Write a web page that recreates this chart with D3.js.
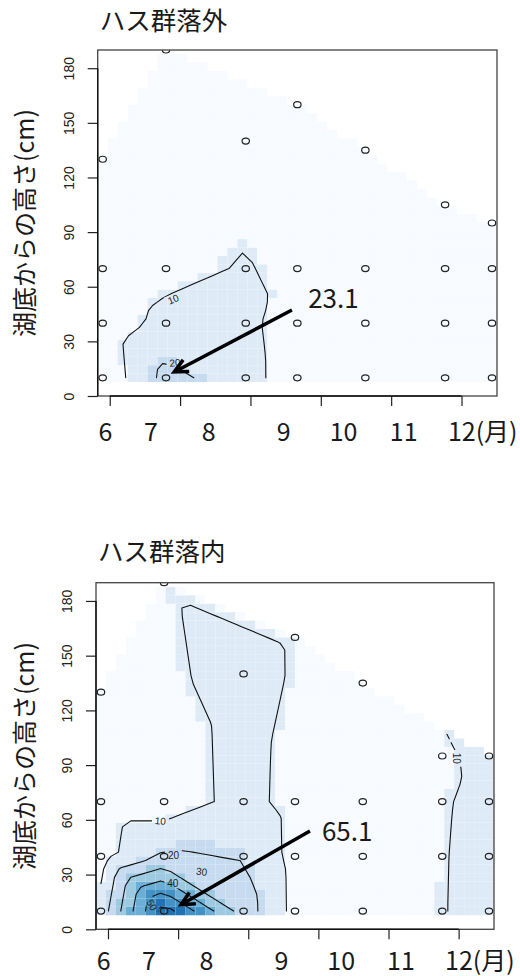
<!DOCTYPE html>
<html>
<head>
<meta charset="utf-8">
<script src="https://cdnjs.cloudflare.com/ajax/libs/d3/7.8.5/d3.min.js"></script>
<style>
  body { margin: 0; background: #fff; }
  .jp { font-family: "Noto Sans CJK JP", "Noto Sans", sans-serif; fill: #1a1a1a; }
  .tick text { font-family: "Liberation Sans", Arial, sans-serif; font-size: 14px; fill: #222; }
  .clabel { font-family: "Liberation Sans", Arial, sans-serif; font-size: 10px; fill: #222; }
</style>
</head>
<body>
<svg id="chart" width="520" height="976"></svg>
<script>
// sampling dates (day of year) - same 7 dates in both sites
const sampleDays = [157, 184, 218, 240, 269, 303, 323];

// sampled heights above the lake bottom (cm), one list per date
const depthsOutside = [[10, 40, 70, 130], [10, 40, 70, 190], [10, 40, 70, 140], [10, 40, 70, 160],
                       [10, 40, 70, 135], [10, 40, 70, 105], [10, 40, 70, 95]];
const depthsInside  = [[10, 40, 70, 130], [10, 40, 70, 190], [10, 40, 70, 140], [10, 40, 70, 160],
                       [10, 40, 70, 135], [10, 40, 70, 95], [10, 40, 70, 95]];

// measured values at each sample (estimated from the figure)
const valuesOutside = [[2.5, 4, 2, 1], [23.1, 13, 7, 1.5], [14.2, 13, 10.8, 5.5], [3.4, 3.3, 6.5, 2],
                       [2.5, 2.5, 2, 1.5], [2, 2, 1.5, 1], [2, 2, 2, 1.5]];
const valuesInside  = [[14, 6, 4, 3], [65.1, 21, 4, 9], [25, 19.5, 13.5, 14], [7, 6.75, 6.5, 9],
                       [3, 3, 3, 2.5], [9.6, 9.5, 9.2, 8], [13, 13, 12.5, 14]];

const contourLevels = [10, 20, 30, 40, 50, 60];
const colorBreaks = [9.3, 18.6, 27.9, 37.2, 46.5, 55.8];
const colorSteps = ["#f7fbff", "#deebf7", "#c6dbef", "#9ecae1", "#6baed6", "#4292c6", "#2171b5"];

const xTicks = [160, 190, 220, 250, 280, 310];
const yTicks = [0, 30, 60, 90, 120, 150, 180];
const monthLabels = ["6", "7", "8", "9", "10", "11", "12(月)"];
const monthDays = [155.2, 174.6, 199.2, 231.2, 253.8, 279.4, 304.2];

// contour labels: [level, day, height, angle]
const labelsOutside = [[10, 187.1, 53.1, -22], [20, 187.8, 18.3, -5]];
const labelsInside = [[10, 182.4, 59.4, 5], [20, 188.0, 40.7, 0], [30, 200.1, 31.6, 6],
                      [40, 187.7, 25.2, 0], [50, 178.7, 13.3, 60], [10, 309.1, 93.7, 90]];

const panels = [
  {title: "ハス群落外", depths: depthsOutside, values: valuesOutside, labels: labelsOutside, peak: "23.1",
   box: {left: 97.7, right: 497, top: 50, bottom: 396}, titleY: 30, monthY: 441,
   arrow: [[237.7, 47.2], [187.5, 13.2]], peakAt: [244.6, 54.4]},
  {title: "ハス群落内", depths: depthsInside, values: valuesInside, labels: labelsInside, peak: "65.1",
   box: {left: 96, right: 494, top: 582.7, bottom: 929.3}, titleY: 561, monthY: 970,
   arrow: [[246.4, 53.9], [191.2, 13.4]], peakAt: [251.5, 54.5]}
];

const svg = d3.select("#chart");
const color = d3.scaleThreshold().domain(colorBreaks).range(colorSteps);

// linear interpolation on the Delaunay triangulation, 40 x 40 grid
function interpField(days, depths, values) {
  const pts = [];
  days.forEach((d, i) => depths[i].forEach((h, j) => pts.push([d, h, values[i][j]])));
  const delaunay = d3.Delaunay.from(pts, p => p[0], p => p[1]);
  const tris = [];
  for (let t = 0; t < delaunay.triangles.length; t += 3) {
    const tri = [pts[delaunay.triangles[t]], pts[delaunay.triangles[t + 1]], pts[delaunay.triangles[t + 2]]];
    // drop the flat slivers along the upper hull
    const [a, b, c] = tri;
    const area = Math.abs((b[0] - a[0]) * (c[1] - a[1]) - (c[0] - a[0]) * (b[1] - a[1])) / 2;
    const longest = d3.max([[a, b], [b, c], [c, a]], ([u, v]) => (u[0] - v[0]) ** 2 + (u[1] - v[1]) ** 2);
    if (area / longest > 0.03) tris.push(tri);
  }
  const n = 40;
  const [x0, x1] = d3.extent(pts, p => p[0]);
  const [y0, y1] = d3.extent(pts, p => p[1]);
  const gx = d3.range(n).map(i => x0 + (x1 - x0) * i / (n - 1));
  const gy = d3.range(n).map(j => y0 + (y1 - y0) * j / (n - 1));
  const grid = gy.map(py => gx.map(px => {
    for (const [a, b, c] of tris) {
      const det = (b[1] - c[1]) * (a[0] - c[0]) + (c[0] - b[0]) * (a[1] - c[1]);
      const l1 = ((b[1] - c[1]) * (px - c[0]) + (c[0] - b[0]) * (py - c[1])) / det;
      const l2 = ((c[1] - a[1]) * (px - c[0]) + (a[0] - c[0]) * (py - c[1])) / det;
      const l3 = 1 - l1 - l2;
      if (l1 >= -1e-7 && l2 >= -1e-7 && l3 >= -1e-7) return l1 * a[2] + l2 * b[2] + l3 * c[2];
    }
    return null;
  }));
  return {gx, gy, grid, dx: (x1 - x0) / (n - 1), dy: (y1 - y0) / (n - 1), pts};
}

// marching squares, open lines stop at missing cells like R's contour()
function contourSegments(f, level) {
  const segs = [];
  for (let j = 0; j < f.gy.length - 1; j++) {
    for (let i = 0; i < f.gx.length - 1; i++) {
      const v00 = f.grid[j][i], v10 = f.grid[j][i + 1], v11 = f.grid[j + 1][i + 1], v01 = f.grid[j + 1][i];
      if (v00 == null || v10 == null || v11 == null || v01 == null) continue;
      const c = [[f.gx[i], f.gy[j], v00], [f.gx[i + 1], f.gy[j], v10],
                 [f.gx[i + 1], f.gy[j + 1], v11], [f.gx[i], f.gy[j + 1], v01]];
      const cross = [];
      for (let e = 0; e < 4; e++) {
        const a = c[e], b = c[(e + 1) % 4];
        if ((a[2] >= level) !== (b[2] >= level)) {
          const t = (level - a[2]) / (b[2] - a[2]);
          cross.push([a[0] + t * (b[0] - a[0]), a[1] + t * (b[1] - a[1])]);
        }
      }
      if (cross.length === 2) segs.push([cross[0], cross[1]]);
      else if (cross.length === 4) {
        const mid = (v00 + v10 + v11 + v01) / 4;
        if ((v00 >= level) === (mid >= level)) { segs.push([cross[0], cross[1]], [cross[2], cross[3]]); }
        else { segs.push([cross[3], cross[0]], [cross[1], cross[2]]); }
      }
    }
  }
  return segs;
}

panels.forEach((p, k) => {
  const f = interpField(sampleDays, p.depths, p.values);
  const x = d3.scaleLinear().domain([f.gx[0] - f.dx / 2, f.gx[f.gx.length - 1] + f.dx / 2])
      .range([p.box.left, p.box.right]);
  const y = d3.scaleLinear().domain([0, 190]).range([p.box.bottom, p.box.top]);

  const defs = svg.append("defs");
  defs.append("clipPath").attr("id", "clip" + k).append("rect")
      .attr("x", p.box.left).attr("y", p.box.top)
      .attr("width", p.box.right - p.box.left).attr("height", p.box.bottom - p.box.top);

  // gaps in contour lines under their labels
  const mask = defs.append("mask").attr("id", "mask" + k).attr("maskUnits", "userSpaceOnUse");
  mask.append("rect").attr("x", 0).attr("y", 0).attr("width", 520).attr("height", 976).attr("fill", "#fff");
  mask.selectAll("rect.gap").data(p.labels).join("rect").attr("class", "gap")
      .attr("x", d => -String(d[0]).length * 3.2 - 2).attr("y", -5)
      .attr("width", d => String(d[0]).length * 6.4 + 4).attr("height", 10)
      .attr("fill", "#000")
      .attr("transform", d => `translate(${x(d[1])},${y(d[2])}) rotate(${d[3]})`);

  const plot = svg.append("g").attr("clip-path", `url(#clip${k})`);

  const cells = [];
  f.gy.forEach((hy, j) => f.gx.forEach((dx, i) => {
    if (f.grid[j][i] != null) cells.push({x: dx, y: hy, v: f.grid[j][i]});
  }));
  plot.append("g").selectAll("rect").data(cells).join("rect")
      .attr("x", d => x(d.x - f.dx / 2))
      .attr("y", d => y(d.y + f.dy / 2))
      .attr("width", x(f.dx) - x(0))
      .attr("height", y(0) - y(f.dy))
      .attr("fill", d => color(d.v));

  const lines = plot.append("g").attr("mask", `url(#mask${k})`);
  contourLevels.forEach(level => {
    const segs = contourSegments(f, level);
    if (!segs.length) return;
    lines.append("path")
        .attr("d", segs.map(s => `M${x(s[0][0])},${y(s[0][1])}L${x(s[1][0])},${y(s[1][1])}`).join(""))
        .attr("fill", "none").attr("stroke", "#111").attr("stroke-width", 1.1)
        .attr("stroke-linecap", "round");
  });

  plot.append("g").selectAll("text").data(p.labels).join("text")
      .attr("class", "clabel")
      .attr("text-anchor", "middle").attr("dy", "0.35em")
      .attr("transform", d => `translate(${x(d[1])},${y(d[2])}) rotate(${d[3]})`)
      .text(d => d[0]);

  plot.append("g").selectAll("ellipse").data(f.pts).join("ellipse")
      .attr("cx", d => x(d[0])).attr("cy", d => y(d[1]))
      .attr("rx", 3.7).attr("ry", 3)
      .attr("fill", "none").attr("stroke", "#222").attr("stroke-width", 1.2);

  // box
  svg.append("rect")
      .attr("x", p.box.left).attr("y", p.box.top)
      .attr("width", p.box.right - p.box.left).attr("height", p.box.bottom - p.box.top)
      .attr("fill", "none").attr("stroke", "#444").attr("stroke-width", 1.3);

  const yAxis = svg.append("g").attr("transform", `translate(${p.box.left},0)`)
      .call(d3.axisLeft(y).tickValues(yTicks).tickSize(10).tickSizeOuter(0).tickFormat(d3.format("d")));
  yAxis.select(".domain").remove();
  yAxis.selectAll(".tick line").attr("stroke", "#222").attr("stroke-width", 1.2);
  yAxis.selectAll(".tick text")
      .attr("transform", "rotate(-90)")
      .attr("x", 0).attr("y", -24).attr("dy", 0)
      .attr("text-anchor", "middle");
  svg.append("line")
      .attr("x1", p.box.left).attr("x2", p.box.left)
      .attr("y1", y(yTicks[0])).attr("y2", y(yTicks[yTicks.length - 1]))
      .attr("stroke", "#111").attr("stroke-width", 1.4);

  const xAxis = svg.append("g").attr("transform", `translate(0,${p.box.bottom})`)
      .call(d3.axisBottom(x).tickValues(xTicks).tickSize(10).tickSizeOuter(0).tickFormat(""));
  xAxis.select(".domain").remove();
  xAxis.selectAll(".tick line").attr("stroke", "#222").attr("stroke-width", 1.2);
  svg.append("line")
      .attr("x1", x(xTicks[0])).attr("x2", x(xTicks[xTicks.length - 1]))
      .attr("y1", p.box.bottom).attr("y2", p.box.bottom)
      .attr("stroke", "#111").attr("stroke-width", 1.4);

  svg.append("g").selectAll("text").data(monthLabels).join("text")
      .attr("class", "jp")
      .attr("x", (d, i) => x(monthDays[i]))
      .attr("y", p.monthY)
      .attr("font-size", 25)
      .text(d => d);

  svg.append("text").attr("class", "jp")
      .attr("x", p.box.left + 2).attr("y", p.titleY)
      .attr("font-size", 25.5)
      .text(p.title);

  svg.append("text").attr("class", "jp")
      .attr("transform", `translate(23,${(p.box.top + p.box.bottom) / 2}) rotate(-90)`)
      .attr("text-anchor", "middle").attr("dominant-baseline", "central")
      .attr("font-size", 25)
      .text("湖底からの高さ(cm)");

  // arrow pointing at the maximum
  const [a0, a1] = p.arrow;
  const sx = x(a0[0]), sy = y(a0[1]), tx = x(a1[0]), ty = y(a1[1]);
  const ang = Math.atan2(ty - sy, tx - sx), head = 15;
  svg.append("path")
      .attr("d", `M${sx},${sy}L${tx},${ty}` +
        `M${tx - head * Math.cos(ang - Math.PI / 7)},${ty - head * Math.sin(ang - Math.PI / 7)}` +
        `L${tx},${ty}L${tx - head * Math.cos(ang + Math.PI / 7)},${ty - head * Math.sin(ang + Math.PI / 7)}`)
      .attr("fill", "none").attr("stroke", "#000").attr("stroke-width", 3.5)
      .attr("stroke-linejoin", "miter");

  svg.append("text").attr("class", "jp")
      .attr("x", x(p.peakAt[0])).attr("y", y(p.peakAt[1]))
      .attr("dominant-baseline", "central")
      .attr("font-size", 26)
      .text(p.peak);
});
</script>
</body>
</html>
